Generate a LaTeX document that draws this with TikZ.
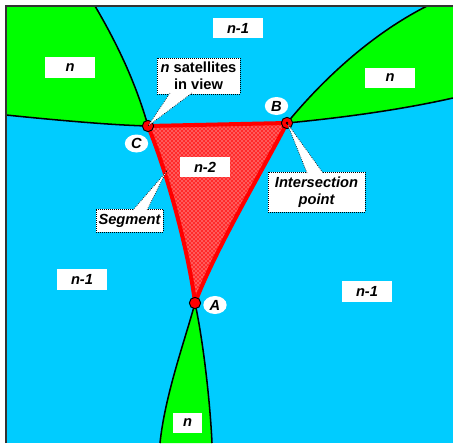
\documentclass[tikz,border=0pt]{standalone}
\usepackage{fontspec}
\setmainfont{Liberation Sans}
\usetikzlibrary{shapes.geometric,patterns,calc}
\definecolor{skyc}{HTML}{00CCFF}
\definecolor{grn}{HTML}{00FF00}
\definecolor{frm}{HTML}{333333}
\definecolor{redfill}{HTML}{FF2A2A}
\tikzset{
  numbox/.style={fill=white, minimum width=37.5pt, minimum height=15.5pt, inner sep=0pt, font=\fontsize{11}{12.75}\selectfont\bfseries\itshape},
  callbox/.style={fill=white, draw=black, densely dotted, line width=0.5pt, inner sep=0pt, align=center},
  pointer/.style={draw=black, densely dotted, line width=0.5pt},
  satdot/.style={circle, fill=red, draw=black, line width=0.7pt, minimum size=8.5pt, inner sep=0pt},
  letter/.style={ellipse, fill=white, minimum width=17.5pt, minimum height=13.5pt, inner sep=0pt, font=\fontsize{11}{12.75}\selectfont\bfseries\itshape},
  bound/.style={draw=black, line width=1.15pt},
  rededge/.style={draw=red, line width=3pt, line join=round}
}
\begin{document}
\begin{tikzpicture}[x=0.75pt,y=-0.75pt, font=\fontsize{11}{12.75}\selectfont\bfseries]
\useasboundingbox (0,0) rectangle (453,443);
% background
\fill[skyc] (6,6) rectangle (453,443);
% key points
\coordinate (Cp) at (148,126);
\coordinate (Bp) at (287,123);
\coordinate (Ap) at (195,303);
% green regions
\fill[grn] (6,6) -- (95,6) .. controls (115,40) and (135,80) .. (Cp)
  .. controls (110,125) and (55,120) .. (6,115) -- cycle;
\fill[grn] (427,6) -- (453,6) -- (453,98) .. controls (400,110) and (340,118) .. (Bp)
  .. controls (310,95) and (360,40) .. (427,6) -- cycle;
\fill[grn] (Ap) .. controls (185,340) and (165,395) .. (160,443) -- (212,443)
  .. controls (210,400) and (203,340) .. (Ap) -- cycle;
% boundaries
\draw[bound] (95,6) .. controls (115,40) and (135,80) .. (Cp);
\draw[bound] (6,115) .. controls (55,120) and (110,125) .. (Cp);
\draw[bound] (Bp) .. controls (310,95) and (360,40) .. (427,6);
\draw[bound] (Bp) .. controls (340,118) and (400,110) .. (453,98);
\draw[bound] (Ap) .. controls (185,340) and (165,395) .. (160,443);
\draw[bound] (Ap) .. controls (203,340) and (210,400) .. (212,443);
% red triangle
\fill[redfill] (Cp) -- (Bp) .. controls (260,175) and (215,250) .. (Ap)
  .. controls (190,260) and (170,180) .. (Cp) -- cycle;
\fill[pattern=crosshatch dots, pattern color=white] (Cp) -- (Bp) .. controls (260,175) and (215,250) .. (Ap)
  .. controls (190,260) and (170,180) .. (Cp) -- cycle;
\draw[rededge] (Cp) -- (Bp) .. controls (260,175) and (215,250) .. (Ap)
  .. controls (190,260) and (170,180) .. (Cp) -- cycle;
% number labels
\node[numbox] (ntl) at (70,67.5) {n};
\node[numbox] (ntop) at (238,28) {n-1};
\node[numbox] (ntr) at (390,78) {n};
\node[numbox] (nmid) at (205,167) {n-2};
\node[numbox] (nleft) at (82,279.5) {n-1};
\node[numbox] (nright) at (367,291.5) {n-1};
\node[numbox, minimum width=21.75pt] (nbot) at (187.5,423) {n};
% satellite dots
\node[satdot] (C) at (Cp) {};
\node[satdot] (B) at (Bp) {};
\node[satdot] (A) at (Ap) {};
\fill[black] (B.center) circle (1pt);
% callouts
\node[callbox, minimum width=62.25pt, minimum height=27pt] (sat) at (198.5,76) {\textit{n} satellites\\in view};
\coordinate (s1) at (170,93);
\coordinate (s2) at (192,93);
\fill[white] (s1) -- (C.center) -- (s2) -- cycle;
\draw[pointer] (s1) -- (C.center) -- (s2);
\node[callbox, minimum width=72.75pt, minimum height=30pt, font=\fontsize{11}{12.75}\selectfont\bfseries\itshape] (inter) at (316.5,192) {Intersection\\point};
\coordinate (i1) at (307,173);
\coordinate (i2) at (323,173);
\fill[white] (i1) -- (B.center) -- (i2) -- cycle;
\draw[pointer] (i1) -- (B.center) -- (i2);
\node[callbox, minimum width=50.25pt, minimum height=17.25pt, font=\fontsize{11}{12.75}\selectfont\bfseries\itshape] (seg) at (129.5,220.5) {Segment};
\coordinate (segpt) at (166,172);
\coordinate (g1) at (133,210);
\coordinate (g2) at (147,210);
\fill[white] (g1) -- (segpt) -- (g2) -- cycle;
\draw[pointer] (g1) -- (segpt) -- (g2);
% letters
\node[letter] (lC) at (136.5,143.5) {C};
\node[letter] (lB) at (276.5,106) {B};
\node[letter] (lA) at (215,305) {A};
% frame
\draw[frm, line width=1.1pt] (6,443) -- (6,6) -- (453,6);
\end{tikzpicture}
\end{document}
